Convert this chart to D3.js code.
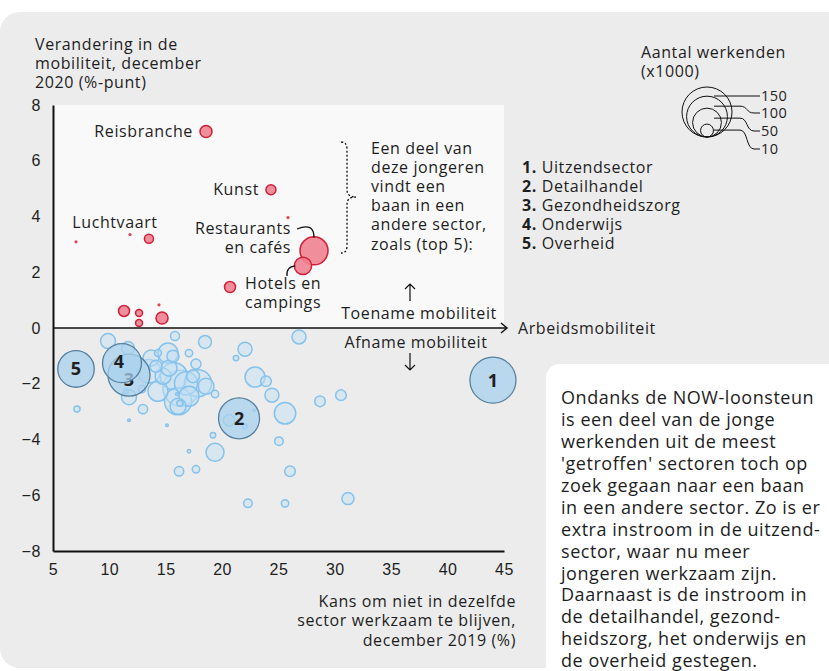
<!DOCTYPE html>
<html lang="nl">
<head>
<meta charset="utf-8">
<title>Mobiliteit jonge werkenden</title>
<script src="https://cdn.jsdelivr.net/npm/d3@7/dist/d3.min.js"></script>
<style>
  body { margin: 0; background: #fff; }
  svg { display: block; font-family: "Open Sans", "Noto Sans", sans-serif; }
  text { fill: #1e1e1e; font-size: 16px; letter-spacing: 0.6px; }
</style>
</head>
<body>
<svg width="829" height="671"></svg>
<script>
// sectoren met stijging (rood): kans (%), verandering (%-punt), werkenden (x1000)
var upX    = [18.57, 24.33, 25.84, 7.04, 11.83, 13.51, 28.15, 27.17, 20.70, 11.30, 12.63, 12.63, 14.67, 14.40];
var upY    = [7.05, 4.96, 3.96, 3.09, 3.35, 3.20, 2.77, 2.23, 1.47, 0.61, 0.54, 0.18, 0.36, 0.83];
var upSize = [8.7, 6, 0.5, 0.5, 0.5, 4.9, 47, 18, 7.3, 7.3, 2.9, 2.9, 8.7, 0.5];

// sectoren met daling (blauw)
var downX    = [9.88, 11.65, 15.82, 18.48, 26.82, 22.03, 21.23, 17.06, 15.64, 15.20, 13.69, 14.31, 13.51, 14.76,
                15.73, 17.68, 17.42, 17.86, 16.35, 16.09, 14.31, 16.09, 16.26, 11.74, 12.89, 11.47, 12.98, 7.13,
                11.74, 15.11, 19.37, 22.92, 23.89, 24.42, 25.58, 28.68, 30.54, 20.61, 22.03, 19.19, 25.04, 17.06,
                19.37, 16.18, 17.68, 26.02, 22.29, 25.58, 31.16, 22.83, 16.0, 15.29, 16.80, 14.13, 18.57, 17.06];
var downY    = [-0.47, -0.72, -0.29, -0.50, -0.32, -0.76, -1.08, -0.90, -1.01, -0.90, -1.08, -0.90, -1.55, -1.73,
                -1.73, -1.29, -1.73, -1.98, -2.16, -2.63, -2.27, -2.81, -2.70, -2.48, -2.19, -2.27, -2.91, -2.91,
                -3.31, -3.49, -2.37, -1.76, -1.91, -2.41, -3.06, -2.63, -2.41, -3.31, -3.53, -3.85, -4.06, -4.42,
                -4.46, -5.14, -5.07, -5.14, -6.29, -6.29, -6.12, -2.95, -2.37, -1.44, -1.98, -1.37, -2.09, -2.45];
var downSize = [13.5, 10, 4.9, 10, 11.8, 11.8, 1.75, 3.3, 8.7, 24, 15.4, 2.9, 33, 15.4,
                44, 6, 10, 44, 78, 44, 24, 15.4, 2.2, 13.5, 3.3, 1.3, 5.3, 2.2,
                0.4, 0.4, 3.3, 24, 6.8, 11.8, 27.5, 6.8, 6.8, 7.8, 1.3, 1.75, 4.4, 0.7,
                19.5, 5.3, 3.3, 6.8, 4.4, 3.3, 8.7, 0.25, 0.5, 15.4, 32, 8.7, 15.4, 24];

// top 5 sectoren met extra instroom
var topNr    = ["1", "2", "3", "4", "5"];
var topNames = ["Uitzendsector", "Detailhandel", "Gezondheidszorg", "Onderwijs", "Overheid"];
var topX     = [44.02, 21.50, 11.74, 11.12, 7.04];
var topY     = [-1.87, -3.24, -1.69, -1.26, -1.47];
var topSize  = [127, 101, 106, 91, 80];

// gelabelde rode sectoren (index in upX)
var upLabels = ["Reisbranche", "Kunst", "Luchtvaart"];
var upLabelIdx = [0, 1, 5];

var xTicks = [5, 10, 15, 20, 25, 30, 35, 40, 45];
var yTicks = [-8, -6, -4, -2, 0, 2, 4, 6, 8];
var legendValues = [150, 100, 50, 10];

var yTitle = ["Verandering in de", "mobiliteit, december", "2020 (%-punt)"];
var xTitle = ["Kans om niet in dezelfde", "sector werkzaam te blijven,", "december 2019 (%)"];
var noteLines = ["Een deel van", "deze jongeren", "vindt een", "baan in een", "andere sector,", "zoals (top 5):"];
var boxLines = ["Ondanks de NOW-loonsteun", "is een deel van de jonge", "werkenden uit de meest",
                "'getroffen' sectoren toch op", "zoek gegaan naar een baan", "in een andere sector. Zo is er",
                "extra instroom in de uitzend-", "sector, waar nu meer", "jongeren werkzaam zijn.",
                "Daarnaast is de instroom in", "de detailhandel, gezond-", "heidszorg, het onderwijs en",
                "de overheid gestegen."];

var svg = d3.select("svg");

var x = d3.scaleLinear().domain([5, 45]).range([53, 504]);
var y = d3.scaleLinear().domain([-8, 8]).range([551, 105]);
var r = d3.scaleSqrt().domain([0, 150]).range([0, 25]);

// achtergrondkaart
svg.append("rect")
  .attr("x", 0).attr("y", 12).attr("width", 900).attr("height", 656).attr("rx", 20)
  .attr("fill", "#ececec");

// lichter vlak boven nul
svg.append("rect")
  .attr("x", x(5)).attr("y", y(8)).attr("width", x(45) - x(5)).attr("height", y(0) - y(8))
  .attr("fill", "#f9f9f9");

// witte tekstkader
svg.append("rect")
  .attr("x", 546).attr("y", 364).attr("width", 400).attr("height", 400).attr("rx", 14)
  .attr("fill", "#fff");

// assen
var yAxis = svg.append("g")
  .attr("transform", "translate(" + x(5) + ",0)")
  .call(d3.axisLeft(y).tickValues(yTicks).tickSize(0).tickPadding(12)
        .tickFormat(function (d) { return d < 0 ? "\u2212" + Math.abs(d) : d; }));
yAxis.select(".domain").attr("stroke", "#111").attr("stroke-width", 2);
yAxis.selectAll("text").style("font-size", "16px").style("font-family", "inherit").attr("fill", "#1e1e1e");

var xAxis = svg.append("g")
  .attr("transform", "translate(0," + y(-8) + ")")
  .call(d3.axisBottom(x).tickValues(xTicks).tickSize(0).tickPadding(13));
xAxis.select(".domain").attr("stroke", "#111").attr("stroke-width", 2);
xAxis.selectAll("text").style("font-size", "16px").style("font-family", "inherit").attr("fill", "#1e1e1e");

// nullijn met pijl
svg.append("line")
  .attr("x1", x(5)).attr("x2", x(45) + 2).attr("y1", y(0)).attr("y2", y(0))
  .attr("stroke", "#111").attr("stroke-width", 1.5);
svg.append("path")
  .attr("d", "M" + (x(45) - 3) + "," + (y(0) - 5) + " L" + (x(45) + 3) + "," + y(0) + " L" + (x(45) - 3) + "," + (y(0) + 5))
  .attr("fill", "none").attr("stroke", "#111").attr("stroke-width", 1.5);
svg.append("text")
  .attr("x", 518).attr("y", y(0)).attr("dy", "0.35em")
  .text("Arbeidsmobiliteit");

// toename / afname
svg.append("text").attr("x", 419).attr("y", 313).attr("dy", "0.35em").attr("text-anchor", "middle")
  .text("Toename mobiliteit");
svg.append("text").attr("x", 416).attr("y", 342).attr("dy", "0.35em").attr("text-anchor", "middle")
  .text("Afname mobiliteit");
svg.append("path").attr("d", "M410,301 L410,284 M405,289 L410,284 L415,289")
  .attr("fill", "none").attr("stroke", "#111").attr("stroke-width", 1.2);
svg.append("path").attr("d", "M410,353 L410,370 M405,365 L410,370 L415,365")
  .attr("fill", "none").attr("stroke", "#111").attr("stroke-width", 1.2);

// astitels
svg.append("g").selectAll("text").data(yTitle).enter().append("text")
  .attr("x", 35).attr("y", function (d, i) { return 44 + i * 19; }).attr("dy", "0.35em")
  .text(function (d) { return d; });
svg.append("g").selectAll("text").data(xTitle).enter().append("text")
  .attr("x", 516).attr("y", function (d, i) { return 601 + i * 19.5; }).attr("dy", "0.35em")
  .attr("text-anchor", "end").text(function (d) { return d; });

// blauwe bellen, groot eerst
var downData = downX.map(function (v, i) { return { x: v, y: downY[i], s: downSize[i] }; })
  .sort(function (a, b) { return b.s - a.s; });
svg.append("g").selectAll("circle").data(downData).enter().append("circle")
  .attr("cx", function (d) { return x(d.x); })
  .attr("cy", function (d) { return y(d.y); })
  .attr("r", function (d) { return Math.max(r(d.s), 1.2); })
  .attr("fill", "#c4e0f4").attr("fill-opacity", 0.5)
  .attr("stroke", "#85c2ec").attr("stroke-width", 1.5);

// top 5
var topData = topX.map(function (v, i) { return { nr: topNr[i], x: v, y: topY[i], s: topSize[i] }; });
var gTop = svg.append("g").selectAll("g").data(topData).enter().append("g");
gTop.append("circle")
  .attr("cx", function (d) { return x(d.x); })
  .attr("cy", function (d) { return y(d.y); })
  .attr("r", function (d) { return r(d.s); })
  .attr("fill", "#a9d1ee").attr("fill-opacity", 0.75)
  .attr("stroke", "#56809f").attr("stroke-width", 1.3);
gTop.append("text")
  .attr("x", function (d) { return x(d.x) + (d.nr === "4" ? -3 : 0); })
  .attr("y", function (d) { return y(d.y) + (d.nr === "3" ? 4 : d.nr === "4" ? -2 : 0); })
  .attr("dy", "0.36em").attr("text-anchor", "middle")
  .style("font-size", "18px").style("font-weight", "bold").style("letter-spacing", "0").attr("fill", "#111")
  .text(function (d) { return d.nr; });

// rode bellen
var upData = upX.map(function (v, i) { return { x: v, y: upY[i], s: upSize[i] }; });
var upSorted = upData.slice().sort(function (a, b) { return b.s - a.s; });
svg.append("g").selectAll("circle").data(upSorted).enter().append("circle")
  .attr("cx", function (d) { return x(d.x); })
  .attr("cy", function (d) { return y(d.y); })
  .attr("r", function (d) { return Math.max(r(d.s), 1.6); })
  .attr("fill", function (d) { return r(d.s) < 2 ? "#e0304a" : "#ef8290"; })
  .attr("fill-opacity", 0.9)
  .attr("stroke", function (d) { return r(d.s) < 2 ? "none" : "#cf2038"; })
  .attr("stroke-width", 1.5);

// labels rode bellen
var rb = upData[upLabelIdx[0]], ku = upData[upLabelIdx[1]], lu = upData[upLabelIdx[2]];
svg.append("text").attr("x", x(rb.x) - r(rb.s) - 7).attr("y", y(rb.y)).attr("dy", "0.35em")
  .attr("text-anchor", "end").text(upLabels[0]);
svg.append("text").attr("x", x(ku.x) - r(ku.s) - 7).attr("y", y(ku.y)).attr("dy", "0.35em")
  .attr("text-anchor", "end").text(upLabels[1]);
svg.append("text").attr("x", x(lu.x) - 34).attr("y", y(lu.y) - 16).attr("dy", "0.35em")
  .attr("text-anchor", "middle").text(upLabels[2]);

// restaurants en cafés / hotels en campings
var re = upData[6], ho = upData[7];
var reX = x(re.x), reY = y(re.y), hoX = x(ho.x), hoY = y(ho.y);
svg.append("text").attr("x", 291).attr("y", 228).attr("dy", "0.35em").attr("text-anchor", "end")
  .text("Restaurants");
svg.append("text").attr("x", 291).attr("y", 247).attr("dy", "0.35em").attr("text-anchor", "end")
  .text("en cafés");
svg.append("path")
  .attr("d", "M297," + 229 + " Q" + reX + "," + 222 + " " + reX + "," + (reY - r(re.s) + 1))
  .attr("fill", "none").attr("stroke", "#111").attr("stroke-width", 1.3);
svg.append("text").attr("x", 245).attr("y", 283).attr("dy", "0.35em")
  .text("Hotels en");
svg.append("text").attr("x", 245).attr("y", 302).attr("dy", "0.35em")
  .text("campings");
svg.append("path")
  .attr("d", "M287,276 Q286," + (hoY + 1) + " " + (hoX - r(ho.s) + 1) + "," + hoY)
  .attr("fill", "none").attr("stroke", "#111").attr("stroke-width", 1.3);

// accolade
svg.append("path")
  .attr("d", "M341,142 Q347,142 347,149 L347,190 Q347,197 356,197 Q347,197 347,204 L347,246 Q347,253 341,253")
  .attr("fill", "none").attr("stroke", "#111").attr("stroke-width", 1.3).attr("stroke-dasharray", "2,2");

svg.append("g").selectAll("text").data(noteLines).enter().append("text")
  .attr("x", 371).attr("y", function (d, i) { return 148 + i * 19.2; }).attr("dy", "0.35em")
  .text(function (d) { return d; });

// lijst top 5
var list = svg.append("g").selectAll("text").data(topNames).enter().append("text")
  .attr("x", 522).attr("y", function (d, i) { return 167 + i * 19.2; }).attr("dy", "0.35em");
list.append("tspan").style("font-weight", "bold").text(function (d, i) { return topNr[i] + ". "; });
list.append("tspan").text(function (d) { return d; });

// legenda grootte
svg.append("text").attr("x", 641).attr("y", 52).attr("dy", "0.35em").text("Aantal werkenden");
svg.append("text").attr("x", 641).attr("y", 71).attr("dy", "0.35em").text("(x1000)");
var lcx = 707, lby = 137;
var labelY = [96, 113, 131, 149];
var leg = svg.append("g");
leg.selectAll("circle").data(legendValues).enter().append("circle")
  .attr("cx", lcx).attr("cy", function (d) { return lby - r(d); }).attr("r", function (d) { return r(d); })
  .attr("fill", "none").attr("stroke", "#111").attr("stroke-width", 1);
leg.selectAll("path").data(legendValues).enter().append("path")
  .attr("d", function (d, i) {
    var sy = lby - 2 * r(d) + (i === 3 ? 6 : 10);
    var sx = lcx + (i === 3 ? 6 : 7);
    if (Math.abs(sy - labelY[i]) < 3) return "M" + sx + "," + labelY[i] + " L760," + labelY[i];
    return "M" + sx + "," + sy + " L740," + sy + " C748," + sy + " 746," + labelY[i] + " 754," + labelY[i] + " L760," + labelY[i];
  })
  .attr("fill", "none").attr("stroke", "#111").attr("stroke-width", 1);
leg.selectAll("text").data(legendValues).enter().append("text")
  .attr("x", 761).attr("y", function (d, i) { return labelY[i]; }).attr("dy", "0.33em")
  .style("font-size", "14.5px").style("letter-spacing", "0.4px").text(function (d) { return d; });

// tekstkader
svg.append("g").selectAll("text").data(boxLines).enter().append("text")
  .attr("x", 561).attr("y", function (d, i) { return 398 + i * 21.9; }).attr("dy", "0.35em")
  .style("font-size", "18px").style("letter-spacing", "0.55px").text(function (d) { return d; });
</script>
</body>
</html>
